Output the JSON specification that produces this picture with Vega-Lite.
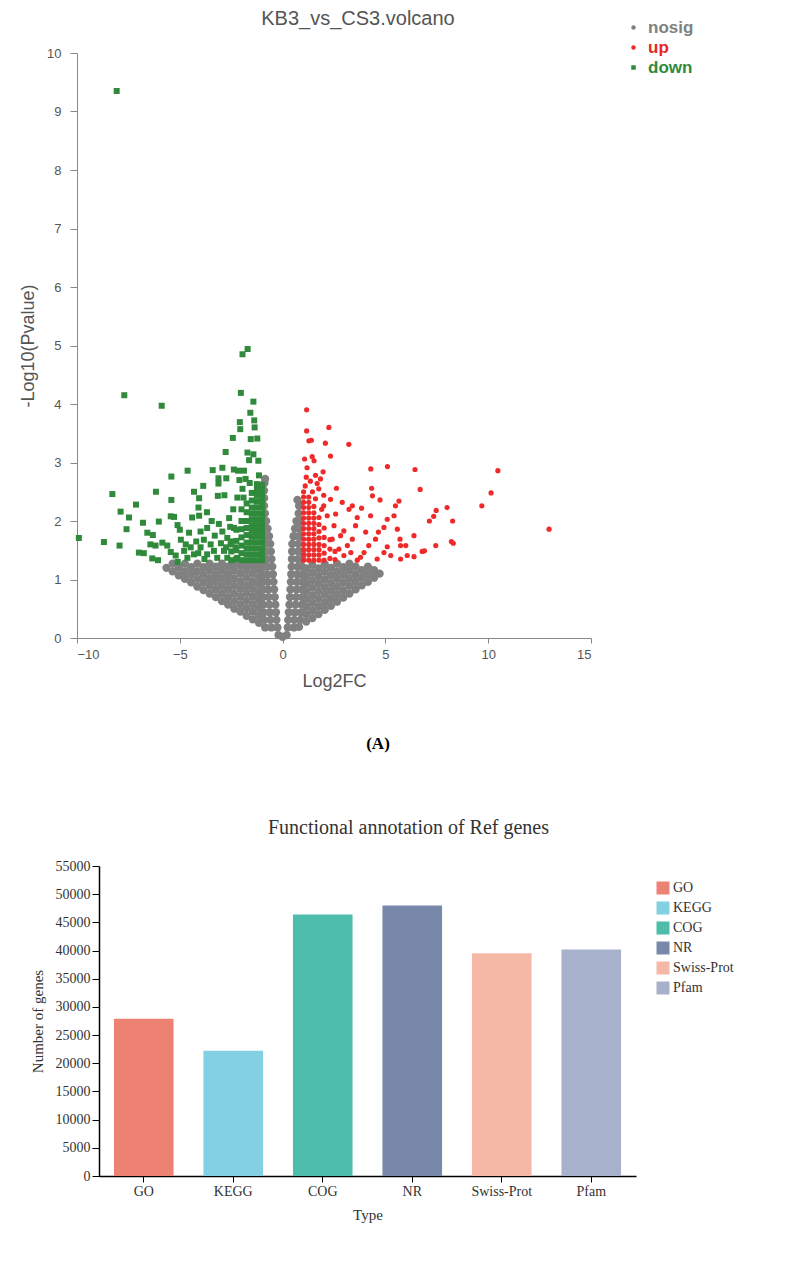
{
"$schema": "https://vega.github.io/schema/vega-lite/v6.json",
"padding": {"top": 9, "left": 19, "right": 5, "bottom": 5},
"spacing": 40,
"background": "white",
"resolve": {"scale": {"color": "independent", "shape": "independent", "x": "independent", "y": "independent"}, "legend": {"color": "independent", "shape": "independent"}},
"config": {"view": {"stroke": null}, "axis": {"grid": false}},
"datasets": {
"volcano": [
{"g":"nosig","x":0,"y":0.02},{"g":"nosig","x":-0.2,"y":0.05},{"g":"nosig","x":0.2,"y":0.05},
{"g":"nosig","x":-0.25,"y":0.18},{"g":"nosig","x":-0.55,"y":0.18},{"g":"nosig","x":-0.85,"y":0.18},
{"g":"nosig","x":-0.3,"y":0.31},{"g":"nosig","x":-0.6,"y":0.31},{"g":"nosig","x":-0.9,"y":0.31},
{"g":"nosig","x":-0.32,"y":0.44},{"g":"nosig","x":-0.62,"y":0.44},{"g":"nosig","x":-0.92,"y":0.44},
{"g":"nosig","x":-0.35,"y":0.57},{"g":"nosig","x":-0.65,"y":0.57},{"g":"nosig","x":-0.95,"y":0.57},
{"g":"nosig","x":-0.38,"y":0.7},{"g":"nosig","x":-0.68,"y":0.7},{"g":"nosig","x":-0.95,"y":0.7},
{"g":"nosig","x":-0.41,"y":0.83},{"g":"nosig","x":-0.7,"y":0.83},{"g":"nosig","x":-0.95,"y":0.83},
{"g":"nosig","x":-0.44,"y":0.96},{"g":"nosig","x":-0.72,"y":0.96},{"g":"nosig","x":-0.95,"y":0.96},
{"g":"nosig","x":-0.47,"y":1.09},{"g":"nosig","x":-0.74,"y":1.09},{"g":"nosig","x":-0.95,"y":1.09},
{"g":"nosig","x":-0.5,"y":1.22},{"g":"nosig","x":-0.75,"y":1.22},{"g":"nosig","x":-0.95,"y":1.22},
{"g":"nosig","x":-0.54,"y":1.35},{"g":"nosig","x":-0.78,"y":1.35},{"g":"nosig","x":-0.95,"y":1.35},
{"g":"nosig","x":-0.57,"y":1.48},{"g":"nosig","x":-0.8,"y":1.48},{"g":"nosig","x":-0.95,"y":1.48},
{"g":"nosig","x":-0.6,"y":1.61},{"g":"nosig","x":-0.82,"y":1.61},
{"g":"nosig","x":-0.66,"y":1.74},{"g":"nosig","x":-0.86,"y":1.74},
{"g":"nosig","x":-0.73,"y":1.87},{"g":"nosig","x":-0.9,"y":1.87},
{"g":"nosig","x":-0.8,"y":2.0},{"g":"nosig","x":-0.92,"y":2.0},
{"g":"nosig","x":-0.86,"y":2.13},{"g":"nosig","x":-0.9,"y":2.26},{"g":"nosig","x":-0.9,"y":2.39},{"g":"nosig","x":-0.9,"y":2.52},{"g":"nosig","x":-0.88,"y":2.65},{"g":"nosig","x":-0.85,"y":2.72},
{"g":"nosig","x":-1.15,"y":0.26},{"g":"nosig","x":-1.15,"y":0.39},{"g":"nosig","x":-1.15,"y":0.52},{"g":"nosig","x":-1.15,"y":0.65},{"g":"nosig","x":-1.15,"y":0.78},{"g":"nosig","x":-1.15,"y":0.91},{"g":"nosig","x":-1.15,"y":1.04},{"g":"nosig","x":-1.15,"y":1.17},{"g":"nosig","x":-1.15,"y":1.27},
{"g":"nosig","x":-1.45,"y":0.32},{"g":"nosig","x":-1.45,"y":0.45},{"g":"nosig","x":-1.45,"y":0.58},{"g":"nosig","x":-1.45,"y":0.71},{"g":"nosig","x":-1.45,"y":0.84},{"g":"nosig","x":-1.45,"y":0.97},{"g":"nosig","x":-1.45,"y":1.1},{"g":"nosig","x":-1.45,"y":1.23},
{"g":"nosig","x":-1.75,"y":0.38},{"g":"nosig","x":-1.75,"y":0.51},{"g":"nosig","x":-1.75,"y":0.64},{"g":"nosig","x":-1.75,"y":0.77},{"g":"nosig","x":-1.75,"y":0.9},{"g":"nosig","x":-1.75,"y":1.03},{"g":"nosig","x":-1.75,"y":1.16},{"g":"nosig","x":-1.75,"y":1.27},
{"g":"nosig","x":-2.05,"y":0.45},{"g":"nosig","x":-2.05,"y":0.58},{"g":"nosig","x":-2.05,"y":0.71},{"g":"nosig","x":-2.05,"y":0.84},{"g":"nosig","x":-2.05,"y":0.97},{"g":"nosig","x":-2.05,"y":1.1},{"g":"nosig","x":-2.05,"y":1.23},
{"g":"nosig","x":-2.35,"y":0.5},{"g":"nosig","x":-2.35,"y":0.63},{"g":"nosig","x":-2.35,"y":0.76},{"g":"nosig","x":-2.35,"y":0.89},{"g":"nosig","x":-2.35,"y":1.02},{"g":"nosig","x":-2.35,"y":1.15},{"g":"nosig","x":-2.35,"y":1.27},
{"g":"nosig","x":-2.65,"y":0.57},{"g":"nosig","x":-2.65,"y":0.7},{"g":"nosig","x":-2.65,"y":0.83},{"g":"nosig","x":-2.65,"y":0.96},{"g":"nosig","x":-2.65,"y":1.09},{"g":"nosig","x":-2.65,"y":1.22},
{"g":"nosig","x":-2.95,"y":0.63},{"g":"nosig","x":-2.95,"y":0.76},{"g":"nosig","x":-2.95,"y":0.89},{"g":"nosig","x":-2.95,"y":1.02},{"g":"nosig","x":-2.95,"y":1.15},{"g":"nosig","x":-2.95,"y":1.27},
{"g":"nosig","x":-3.25,"y":0.7},{"g":"nosig","x":-3.25,"y":0.83},{"g":"nosig","x":-3.25,"y":0.96},{"g":"nosig","x":-3.25,"y":1.09},{"g":"nosig","x":-3.25,"y":1.22},
{"g":"nosig","x":-3.55,"y":0.76},{"g":"nosig","x":-3.55,"y":0.89},{"g":"nosig","x":-3.55,"y":1.02},{"g":"nosig","x":-3.55,"y":1.15},{"g":"nosig","x":-3.55,"y":1.27},
{"g":"nosig","x":-3.85,"y":0.82},{"g":"nosig","x":-3.85,"y":0.95},{"g":"nosig","x":-3.85,"y":1.08},{"g":"nosig","x":-3.85,"y":1.21},
{"g":"nosig","x":-4.15,"y":0.88},{"g":"nosig","x":-4.15,"y":1.01},{"g":"nosig","x":-4.15,"y":1.14},{"g":"nosig","x":-4.15,"y":1.27},
{"g":"nosig","x":-4.45,"y":0.95},{"g":"nosig","x":-4.45,"y":1.08},{"g":"nosig","x":-4.45,"y":1.21},
{"g":"nosig","x":-4.75,"y":1.01},{"g":"nosig","x":-4.75,"y":1.14},{"g":"nosig","x":-4.75,"y":1.27},
{"g":"nosig","x":-5.05,"y":1.07},{"g":"nosig","x":-5.05,"y":1.2},
{"g":"nosig","x":-5.35,"y":1.14},{"g":"nosig","x":-5.35,"y":1.27},
{"g":"nosig","x":-5.65,"y":1.2},
{"g":"nosig","x":0.25,"y":0.18},{"g":"nosig","x":0.55,"y":0.18},{"g":"nosig","x":0.8,"y":0.19},
{"g":"nosig","x":0.27,"y":0.31},{"g":"nosig","x":0.57,"y":0.31},{"g":"nosig","x":0.87,"y":0.31},
{"g":"nosig","x":0.3,"y":0.44},{"g":"nosig","x":0.6,"y":0.44},{"g":"nosig","x":0.9,"y":0.44},
{"g":"nosig","x":0.33,"y":0.57},{"g":"nosig","x":0.63,"y":0.57},{"g":"nosig","x":0.93,"y":0.57},
{"g":"nosig","x":0.36,"y":0.7},{"g":"nosig","x":0.66,"y":0.7},{"g":"nosig","x":0.95,"y":0.7},
{"g":"nosig","x":0.38,"y":0.83},{"g":"nosig","x":0.68,"y":0.83},{"g":"nosig","x":0.95,"y":0.83},
{"g":"nosig","x":0.4,"y":0.96},{"g":"nosig","x":0.7,"y":0.96},{"g":"nosig","x":0.95,"y":0.96},
{"g":"nosig","x":0.42,"y":1.09},{"g":"nosig","x":0.72,"y":1.09},{"g":"nosig","x":0.95,"y":1.09},
{"g":"nosig","x":0.44,"y":1.22},{"g":"nosig","x":0.74,"y":1.22},{"g":"nosig","x":0.95,"y":1.22},
{"g":"nosig","x":0.45,"y":1.35},{"g":"nosig","x":0.75,"y":1.35},{"g":"nosig","x":0.95,"y":1.35},
{"g":"nosig","x":0.46,"y":1.48},{"g":"nosig","x":0.76,"y":1.48},{"g":"nosig","x":0.95,"y":1.48},
{"g":"nosig","x":0.47,"y":1.61},{"g":"nosig","x":0.77,"y":1.61},
{"g":"nosig","x":0.53,"y":1.74},{"g":"nosig","x":0.8,"y":1.74},
{"g":"nosig","x":0.6,"y":1.87},{"g":"nosig","x":0.82,"y":1.87},
{"g":"nosig","x":0.67,"y":2.0},{"g":"nosig","x":0.85,"y":2.0},
{"g":"nosig","x":0.78,"y":2.13},{"g":"nosig","x":0.8,"y":2.26},{"g":"nosig","x":0.72,"y":2.36},
{"g":"nosig","x":1.15,"y":0.28},{"g":"nosig","x":1.15,"y":0.41},{"g":"nosig","x":1.15,"y":0.54},{"g":"nosig","x":1.15,"y":0.67},{"g":"nosig","x":1.15,"y":0.8},{"g":"nosig","x":1.15,"y":0.93},{"g":"nosig","x":1.15,"y":1.06},{"g":"nosig","x":1.15,"y":1.19},
{"g":"nosig","x":1.45,"y":0.34},{"g":"nosig","x":1.45,"y":0.47},{"g":"nosig","x":1.45,"y":0.6},{"g":"nosig","x":1.45,"y":0.73},{"g":"nosig","x":1.45,"y":0.86},{"g":"nosig","x":1.45,"y":0.99},{"g":"nosig","x":1.45,"y":1.12},{"g":"nosig","x":1.45,"y":1.25},
{"g":"nosig","x":1.75,"y":0.41},{"g":"nosig","x":1.75,"y":0.54},{"g":"nosig","x":1.75,"y":0.67},{"g":"nosig","x":1.75,"y":0.8},{"g":"nosig","x":1.75,"y":0.93},{"g":"nosig","x":1.75,"y":1.06},{"g":"nosig","x":1.75,"y":1.19},
{"g":"nosig","x":2.05,"y":0.48},{"g":"nosig","x":2.05,"y":0.61},{"g":"nosig","x":2.05,"y":0.74},{"g":"nosig","x":2.05,"y":0.87},{"g":"nosig","x":2.05,"y":1.0},{"g":"nosig","x":2.05,"y":1.13},{"g":"nosig","x":2.05,"y":1.26},
{"g":"nosig","x":2.35,"y":0.55},{"g":"nosig","x":2.35,"y":0.68},{"g":"nosig","x":2.35,"y":0.81},{"g":"nosig","x":2.35,"y":0.94},{"g":"nosig","x":2.35,"y":1.07},{"g":"nosig","x":2.35,"y":1.2},
{"g":"nosig","x":2.65,"y":0.62},{"g":"nosig","x":2.65,"y":0.75},{"g":"nosig","x":2.65,"y":0.88},{"g":"nosig","x":2.65,"y":1.01},{"g":"nosig","x":2.65,"y":1.14},{"g":"nosig","x":2.65,"y":1.27},
{"g":"nosig","x":2.95,"y":0.69},{"g":"nosig","x":2.95,"y":0.82},{"g":"nosig","x":2.95,"y":0.95},{"g":"nosig","x":2.95,"y":1.08},{"g":"nosig","x":2.95,"y":1.21},
{"g":"nosig","x":3.25,"y":0.76},{"g":"nosig","x":3.25,"y":0.89},{"g":"nosig","x":3.25,"y":1.02},{"g":"nosig","x":3.25,"y":1.15},{"g":"nosig","x":3.25,"y":1.27},
{"g":"nosig","x":3.55,"y":0.83},{"g":"nosig","x":3.55,"y":0.96},{"g":"nosig","x":3.55,"y":1.09},{"g":"nosig","x":3.55,"y":1.22},
{"g":"nosig","x":3.85,"y":0.9},{"g":"nosig","x":3.85,"y":1.03},{"g":"nosig","x":3.85,"y":1.16},
{"g":"nosig","x":4.15,"y":0.96},{"g":"nosig","x":4.15,"y":1.09},{"g":"nosig","x":4.15,"y":1.22},
{"g":"nosig","x":4.45,"y":1.03},{"g":"nosig","x":4.45,"y":1.16},
{"g":"nosig","x":4.72,"y":1.1},
{"g":"down","x":-1.0,"y":1.33},{"g":"down","x":-1.0,"y":1.43},{"g":"down","x":-1.0,"y":1.53},{"g":"down","x":-1.0,"y":1.63},{"g":"down","x":-1.0,"y":1.73},{"g":"down","x":-1.0,"y":1.83},{"g":"down","x":-1.0,"y":1.93},{"g":"down","x":-1.0,"y":2.03},{"g":"down","x":-1.0,"y":2.13},{"g":"down","x":-1.0,"y":2.23},{"g":"down","x":-1.0,"y":2.33},{"g":"down","x":-1.0,"y":2.43},{"g":"down","x":-1.0,"y":2.53},{"g":"down","x":-1.0,"y":2.62},
{"g":"down","x":-1.25,"y":1.33},{"g":"down","x":-1.25,"y":1.43},{"g":"down","x":-1.25,"y":1.53},{"g":"down","x":-1.25,"y":1.63},{"g":"down","x":-1.25,"y":1.73},{"g":"down","x":-1.25,"y":1.83},{"g":"down","x":-1.25,"y":1.93},{"g":"down","x":-1.25,"y":2.03},{"g":"down","x":-1.25,"y":2.13},{"g":"down","x":-1.25,"y":2.23},{"g":"down","x":-1.25,"y":2.33},{"g":"down","x":-1.25,"y":2.43},{"g":"down","x":-1.25,"y":2.53},{"g":"down","x":-1.25,"y":2.63},
{"g":"down","x":-1.5,"y":1.33},{"g":"down","x":-1.5,"y":1.43},{"g":"down","x":-1.5,"y":1.53},{"g":"down","x":-1.5,"y":1.63},{"g":"down","x":-1.5,"y":1.73},{"g":"down","x":-1.5,"y":1.83},{"g":"down","x":-1.5,"y":1.93},{"g":"down","x":-1.5,"y":2.03},{"g":"down","x":-1.5,"y":2.13},{"g":"down","x":-1.5,"y":2.23},{"g":"down","x":-1.5,"y":2.35},{"g":"down","x":-1.5,"y":2.48},
{"g":"down","x":-1.75,"y":1.33},{"g":"down","x":-1.75,"y":1.43},{"g":"down","x":-1.75,"y":1.53},{"g":"down","x":-1.75,"y":1.63},{"g":"down","x":-1.75,"y":1.76},{"g":"down","x":-1.75,"y":1.88},{"g":"down","x":-1.75,"y":2.0},{"g":"down","x":-1.75,"y":2.15},{"g":"down","x":-1.75,"y":2.3},
{"g":"down","x":-2.0,"y":1.33},{"g":"down","x":-2.0,"y":1.45},{"g":"down","x":-2.0,"y":1.58},{"g":"down","x":-2.0,"y":1.72},{"g":"down","x":-2.0,"y":1.86},{"g":"down","x":-2.0,"y":2.0},
{"g":"down","x":-2.25,"y":1.35},{"g":"down","x":-2.25,"y":1.5},{"g":"down","x":-2.25,"y":1.66},{"g":"down","x":-2.25,"y":1.85},
{"g":"down","x":-2.5,"y":1.33},{"g":"down","x":-2.5,"y":1.48},{"g":"down","x":-2.5,"y":1.65},
{"g":"down","x":-8.07,"y":9.35},{"g":"down","x":-1.95,"y":4.85},{"g":"down","x":-1.7,"y":4.94},{"g":"down","x":-7.7,"y":4.15},{"g":"down","x":-5.88,"y":3.97},{"g":"down","x":-2.03,"y":4.19},{"g":"down","x":-1.42,"y":4.04},{"g":"down","x":-1.57,"y":3.85},{"g":"down","x":-2.08,"y":3.69},{"g":"down","x":-1.38,"y":3.72},
{"g":"down","x":-2.06,"y":3.57},{"g":"down","x":-1.36,"y":3.6},{"g":"down","x":-2.42,"y":3.42},{"g":"down","x":-1.55,"y":3.4},{"g":"down","x":-1.23,"y":3.41},{"g":"down","x":-2.77,"y":3.18},{"g":"down","x":-1.71,"y":3.17},{"g":"down","x":-1.42,"y":3.14},{"g":"down","x":-1.63,"y":3.04},{"g":"down","x":-1.18,"y":3.03},
{"g":"down","x":-4.62,"y":2.86},{"g":"down","x":-3.4,"y":2.87},{"g":"down","x":-2.93,"y":2.91},{"g":"down","x":-2.37,"y":2.88},{"g":"down","x":-2.16,"y":2.86},{"g":"down","x":-1.88,"y":2.86},{"g":"down","x":-5.41,"y":2.76},{"g":"down","x":-3.12,"y":2.73},{"g":"down","x":-2.74,"y":2.73},{"g":"down","x":-1.8,"y":2.72},
{"g":"down","x":-8.28,"y":2.46},{"g":"down","x":-6.16,"y":2.5},{"g":"down","x":-4.31,"y":2.5},{"g":"down","x":-3.86,"y":2.6},{"g":"down","x":-3.12,"y":2.64},{"g":"down","x":-5.41,"y":2.36},{"g":"down","x":-4.06,"y":2.39},{"g":"down","x":-3.15,"y":2.43},{"g":"down","x":-2.83,"y":2.44},{"g":"down","x":-7.13,"y":2.28},
{"g":"down","x":-7.88,"y":2.16},{"g":"down","x":-7.47,"y":2.06},{"g":"down","x":-5.44,"y":2.08},{"g":"down","x":-5.28,"y":2.07},{"g":"down","x":-4.09,"y":2.23},{"g":"down","x":-3.68,"y":2.15},{"g":"down","x":-4.06,"y":2.09},{"g":"down","x":-4.4,"y":2.06},{"g":"down","x":-6.79,"y":1.97},{"g":"down","x":-6.02,"y":1.99},
{"g":"down","x":-7.59,"y":1.86},{"g":"down","x":-5.11,"y":1.93},{"g":"down","x":-9.91,"y":1.71},{"g":"down","x":-8.69,"y":1.64},{"g":"down","x":-7.93,"y":1.58},{"g":"down","x":-6.58,"y":1.8},{"g":"down","x":-6.31,"y":1.76},{"g":"down","x":-6.43,"y":1.6},{"g":"down","x":-6.18,"y":1.58},{"g":"down","x":-6.99,"y":1.46},
{"g":"down","x":-6.75,"y":1.45},{"g":"down","x":-6.34,"y":1.36},{"g":"down","x":-6.06,"y":1.33},{"g":"down","x":-5.85,"y":1.63},{"g":"down","x":-5.61,"y":1.58},{"g":"down","x":-5.44,"y":1.47},{"g":"down","x":-5.2,"y":1.41},{"g":"down","x":-4.95,"y":1.68},{"g":"down","x":-4.71,"y":1.6},{"g":"down","x":-4.79,"y":1.49},
{"g":"down","x":-4.47,"y":1.55},{"g":"down","x":-4.31,"y":1.43},{"g":"down","x":-4.63,"y":1.37},{"g":"down","x":-3.99,"y":1.82},{"g":"down","x":-3.83,"y":1.68},{"g":"down","x":-3.67,"y":1.88},{"g":"down","x":-3.5,"y":1.6},{"g":"down","x":-3.34,"y":1.49},{"g":"down","x":-3.18,"y":1.37},{"g":"down","x":-3.67,"y":1.43},
{"g":"down","x":-3.99,"y":1.55},{"g":"down","x":-2.93,"y":1.82},{"g":"down","x":-2.69,"y":1.71},{"g":"down","x":-2.53,"y":1.6},{"g":"down","x":-2.85,"y":1.49},{"g":"down","x":-2.69,"y":1.37},{"g":"down","x":-2.36,"y":1.88},{"g":"down","x":-2.28,"y":1.55},{"g":"down","x":-2.2,"y":1.37},{"g":"down","x":-4.2,"y":1.65},
{"g":"down","x":-3.3,"y":1.75},{"g":"down","x":-3.0,"y":1.62},{"g":"down","x":-4.55,"y":1.8},{"g":"down","x":-5.0,"y":1.85},{"g":"down","x":-3.45,"y":2.0},{"g":"down","x":-2.6,"y":2.05},{"g":"down","x":-2.4,"y":2.2},{"g":"down","x":-2.2,"y":2.4},{"g":"down","x":-1.95,"y":2.55},{"g":"down","x":-2.1,"y":2.7},
{"g":"down","x":-1.6,"y":2.65},{"g":"down","x":-2.55,"y":1.9},{"g":"down","x":-3.8,"y":1.35},{"g":"down","x":-4.1,"y":1.45},{"g":"down","x":-5.1,"y":1.3},{"g":"down","x":-2.75,"y":1.55},{"g":"down","x":-3.1,"y":1.95},{"g":"down","x":-2.0,"y":2.2},{"g":"down","x":-1.9,"y":2.4},{"g":"down","x":-1.15,"y":2.78},
{"g":"up","x":1.02,"y":1.33},{"g":"up","x":1.02,"y":1.42},{"g":"up","x":1.02,"y":1.51},{"g":"up","x":1.02,"y":1.6},{"g":"up","x":1.02,"y":1.69},{"g":"up","x":1.02,"y":1.78},{"g":"up","x":1.02,"y":1.87},{"g":"up","x":1.02,"y":1.96},{"g":"up","x":1.02,"y":2.05},{"g":"up","x":1.02,"y":2.14},{"g":"up","x":1.02,"y":2.23},{"g":"up","x":1.02,"y":2.32},{"g":"up","x":1.02,"y":2.41},{"g":"up","x":1.02,"y":2.5},
{"g":"up","x":1.27,"y":1.33},{"g":"up","x":1.27,"y":1.42},{"g":"up","x":1.27,"y":1.51},{"g":"up","x":1.27,"y":1.6},{"g":"up","x":1.27,"y":1.69},{"g":"up","x":1.27,"y":1.78},{"g":"up","x":1.27,"y":1.87},{"g":"up","x":1.27,"y":1.96},{"g":"up","x":1.27,"y":2.05},{"g":"up","x":1.27,"y":2.14},{"g":"up","x":1.27,"y":2.23},{"g":"up","x":1.27,"y":2.32},{"g":"up","x":1.27,"y":2.41},
{"g":"up","x":1.52,"y":1.33},{"g":"up","x":1.52,"y":1.42},{"g":"up","x":1.52,"y":1.51},{"g":"up","x":1.52,"y":1.6},{"g":"up","x":1.52,"y":1.69},{"g":"up","x":1.52,"y":1.78},{"g":"up","x":1.52,"y":1.87},{"g":"up","x":1.52,"y":1.96},{"g":"up","x":1.52,"y":2.05},{"g":"up","x":1.52,"y":2.14},{"g":"up","x":1.52,"y":2.25},
{"g":"up","x":1.77,"y":1.33},{"g":"up","x":1.77,"y":1.42},{"g":"up","x":1.77,"y":1.51},{"g":"up","x":1.77,"y":1.6},{"g":"up","x":1.77,"y":1.71},{"g":"up","x":1.77,"y":1.82},{"g":"up","x":1.77,"y":1.94},{"g":"up","x":1.77,"y":2.06},
{"g":"up","x":2.02,"y":1.33},{"g":"up","x":2.02,"y":1.45},{"g":"up","x":2.02,"y":1.58},{"g":"up","x":2.02,"y":1.72},{"g":"up","x":2.02,"y":1.88},
{"g":"up","x":2.3,"y":1.36},{"g":"up","x":2.3,"y":1.52},{"g":"up","x":2.3,"y":1.68},{"g":"up","x":2.55,"y":1.34},{"g":"up","x":2.55,"y":1.48},
{"g":"up","x":1.17,"y":3.9},{"g":"up","x":1.17,"y":3.54},{"g":"up","x":2.25,"y":3.6},{"g":"up","x":1.28,"y":3.37},{"g":"up","x":1.4,"y":3.38},{"g":"up","x":2.08,"y":3.33},{"g":"up","x":3.22,"y":3.31},{"g":"up","x":1.07,"y":3.06},{"g":"up","x":1.44,"y":3.1},{"g":"up","x":1.53,"y":3.03},
{"g":"up","x":2.33,"y":3.11},{"g":"up","x":1.19,"y":2.91},{"g":"up","x":4.29,"y":2.89},{"g":"up","x":5.1,"y":2.93},{"g":"up","x":6.44,"y":2.88},{"g":"up","x":10.47,"y":2.86},{"g":"up","x":10.14,"y":2.48},{"g":"up","x":9.69,"y":2.26},{"g":"up","x":12.96,"y":1.86},{"g":"up","x":4.33,"y":2.56},
{"g":"up","x":6.69,"y":2.54},{"g":"up","x":2.62,"y":2.56},{"g":"up","x":4.37,"y":2.43},{"g":"up","x":4.74,"y":2.36},{"g":"up","x":2.9,"y":2.32},{"g":"up","x":5.66,"y":2.34},{"g":"up","x":5.49,"y":2.26},{"g":"up","x":8.0,"y":2.23},{"g":"up","x":7.47,"y":2.18},{"g":"up","x":7.35,"y":2.08},
{"g":"up","x":7.14,"y":2.0},{"g":"up","x":8.27,"y":2.0},{"g":"up","x":8.21,"y":1.65},{"g":"up","x":7.45,"y":1.58},{"g":"up","x":6.79,"y":1.48},{"g":"up","x":6.9,"y":1.49},{"g":"up","x":6.39,"y":1.75},{"g":"up","x":6.06,"y":1.41},{"g":"up","x":6.39,"y":1.39},{"g":"up","x":5.74,"y":1.35},
{"g":"up","x":5.71,"y":1.69},{"g":"up","x":3.84,"y":2.22},{"g":"up","x":3.39,"y":2.26},{"g":"up","x":3.23,"y":2.2},{"g":"up","x":4.28,"y":2.09},{"g":"up","x":3.63,"y":2.06},{"g":"up","x":2.5,"y":1.92},{"g":"up","x":2.98,"y":1.83},{"g":"up","x":2.58,"y":2.12},{"g":"up","x":2.17,"y":2.09},
{"g":"up","x":4.93,"y":1.89},{"g":"up","x":5.09,"y":2.03},{"g":"up","x":5.42,"y":2.09},{"g":"up","x":4.66,"y":1.81},{"g":"up","x":4.52,"y":1.69},{"g":"up","x":4.19,"y":1.58},{"g":"up","x":3.96,"y":1.46},{"g":"up","x":3.79,"y":1.38},{"g":"up","x":3.63,"y":1.33},{"g":"up","x":5.09,"y":1.56},
{"g":"up","x":5.26,"y":1.41},{"g":"up","x":4.93,"y":1.46},{"g":"up","x":4.6,"y":1.35},{"g":"up","x":3.39,"y":1.69},{"g":"up","x":3.15,"y":1.58},{"g":"up","x":3.32,"y":1.46},{"g":"up","x":2.98,"y":1.41},{"g":"up","x":2.74,"y":1.52},{"g":"up","x":2.41,"y":1.69},{"g":"up","x":2.82,"y":1.75},
{"g":"up","x":3.55,"y":1.92},{"g":"up","x":4.04,"y":1.81},{"g":"up","x":5.58,"y":1.86},{"g":"up","x":5.99,"y":1.58},{"g":"up","x":5.74,"y":1.58},{"g":"up","x":2.0,"y":2.44},{"g":"up","x":1.76,"y":2.55},{"g":"up","x":1.84,"y":2.72},{"g":"up","x":1.6,"y":2.78},{"g":"up","x":1.68,"y":2.64},
{"g":"up","x":2.0,"y":2.26},{"g":"up","x":2.33,"y":2.37},{"g":"up","x":1.97,"y":2.84},{"g":"up","x":1.1,"y":2.6},{"g":"up","x":1.15,"y":2.75},{"g":"up","x":1.35,"y":2.68},{"g":"up","x":1.45,"y":2.5},{"g":"up","x":1.6,"y":2.38},{"g":"up","x":1.9,"y":2.2},{"g":"up","x":8.3,"y":1.62}
],
"genes": [
{"type":"GO","count":27900},{"type":"KEGG","count":22200},{"type":"COG","count":46400},{"type":"NR","count":48000},{"type":"Swiss-Prot","count":39500},{"type":"Pfam","count":40200}
],
"panel": [{"label":"(A)"}]
},
"vconcat": [
{
"width": 514, "height": 585,
"title": {"text": "KB3_vs_CS3.volcano", "font": "Liberation Sans", "fontSize": 20, "fontWeight": "normal", "color": "#555555", "dx": 2, "offset": -10},
"data": {"name": "volcano"},
"encoding": {
"x": {"field": "x", "type": "quantitative", "scale": {"domain": [-10, 15], "range": [-22, 492], "nice": false, "zero": false},
"axis": {"title": "Log2FC", "values": [-10, -5, 0, 5, 10, 15], "labelFont": "Liberation Sans", "labelFontSize": 13, "labelColor": "#555555", "domainColor": "#888888", "tickColor": "#888888", "tickSize": 5, "labelPadding": 5, "titleFont": "Liberation Sans", "titleFontSize": 18, "titleFontWeight": "normal", "titleColor": "#555555", "titlePadding": 11}},
"y": {"field": "y", "type": "quantitative", "scale": {"domain": [0, 10], "nice": false},
"axis": {"title": "-Log10(Pvalue)", "offset": 22, "values": [0, 1, 2, 3, 4, 5, 6, 7, 8, 9, 10], "labelFont": "Liberation Sans", "labelFontSize": 13, "labelColor": "#555555", "domainColor": "#888888", "tickColor": "#888888", "tickSize": 7, "labelPadding": 9, "titleFont": "Liberation Sans", "titleFontSize": 18, "titleFontWeight": "normal", "titleColor": "#555555", "titlePadding": 9}},
"color": {"field": "g", "type": "nominal", "scale": {"domain": ["nosig", "up", "down"], "range": ["#808080", "#ee2a2a", "#2f8a3b"]},
"legend": {"orient": "none", "legendX": 526, "legendY": -34, "title": null, "labelFont": "Liberation Sans", "labelFontSize": 17, "labelFontWeight": "bold", "symbolSize": 20, "rowPadding": 2, "labelOffset": 6, "padding": 0,
"labelColor": {"expr": "datum.value === 'up' ? '#e8262a' : (datum.value === 'down' ? '#2f8a3b' : '#808080')"},
"encode": {"symbols": {"update": {"shape": [{"test": "datum.value === 'down'", "value": "square"}, {"value": "circle"}]}}}}},
"shape": {"field": "g", "type": "nominal", "scale": {"domain": ["nosig", "up", "down"], "range": ["circle", "circle", "square"]}, "legend": null}
},
"layer": [
{"transform": [{"filter": "datum.g === 'nosig'"}], "mark": {"type": "point", "filled": true, "size": 68, "opacity": 1}},
{"transform": [{"filter": "datum.g === 'down'"}], "mark": {"type": "point", "filled": true, "size": 36, "opacity": 1}},
{"transform": [{"filter": "datum.g === 'up'"}], "mark": {"type": "point", "filled": true, "size": 27, "opacity": 1}}
]
},
{
"width": 558, "height": 48,
"data": {"name": "panel"},
"mark": {"type": "text", "font": "Liberation Serif", "fontSize": 17, "fontWeight": "bold", "color": "#000000", "dy": -10},
"encoding": {"text": {"field": "label", "type": "nominal"}}
},
{
"width": 537, "height": 310,
"title": {"text": "Functional annotation of Ref genes", "font": "Liberation Serif", "fontSize": 20, "fontWeight": "normal", "color": "#333333", "dx": 41, "offset": 21},
"data": {"name": "genes"},
"mark": {"type": "bar"},
"encoding": {
"x": {"field": "type", "type": "nominal", "sort": null, "scale": {"paddingInner": 0.334, "paddingOuter": 0.167},
"axis": {"title": "Type", "labelAngle": 0, "labelFont": "Liberation Serif", "labelFontSize": 14, "labelColor": "#333333", "domainColor": "#000000", "domainWidth": 1.5, "tickColor": "#000000", "tickSize": 6, "labelPadding": 2, "titleFont": "Liberation Serif", "titleFontSize": 15, "titleFontWeight": "normal", "titleColor": "#333333", "titlePadding": 9}},
"y": {"field": "count", "type": "quantitative", "scale": {"domain": [0, 55000], "nice": false},
"axis": {"title": "Number of genes", "values": [0, 5000, 10000, 15000, 20000, 25000, 30000, 35000, 40000, 45000, 50000, 55000], "format": "d", "labelFont": "Liberation Serif", "labelFontSize": 14, "labelColor": "#333333", "domainColor": "#000000", "domainWidth": 1.5, "tickColor": "#000000", "tickSize": 7, "labelPadding": 2, "titleFont": "Liberation Serif", "titleFontSize": 15, "titleFontWeight": "normal", "titleColor": "#333333", "titlePadding": 10}},
"color": {"field": "type", "type": "nominal", "sort": null, "scale": {"domain": ["GO", "KEGG", "COG", "NR", "Swiss-Prot", "Pfam"], "range": ["#ee8272", "#83d0e2", "#4fbdac", "#7888ab", "#f5b8a6", "#a8b1cb"]},
"legend": {"orient": "none", "legendX": 557, "legendY": 15, "title": null, "symbolType": "square", "symbolSize": 169, "symbolStrokeWidth": 0, "labelFont": "Liberation Serif", "labelFontSize": 14, "labelColor": "#333333", "rowPadding": 6, "labelOffset": 3, "padding": 0}}
}
}
]
}
